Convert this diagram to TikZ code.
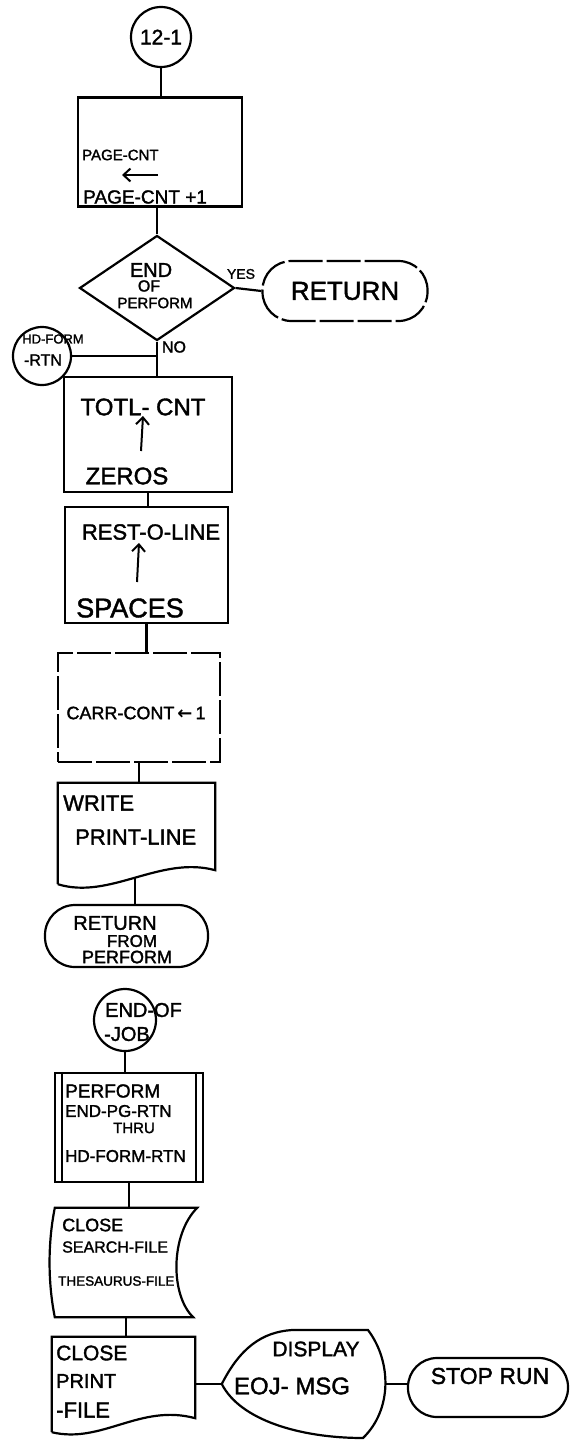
\documentclass[tikz,border=0pt]{standalone}
\usepackage{fontspec}
\setmainfont{Liberation Sans}[BoldFont=Liberation Sans, BoldFeatures={FakeBold=1.6}]
\newfontfamily\symf{DejaVu Sans}
\usetikzlibrary{shapes.geometric,arrows.meta}
\newcommand\fsz[1]{\fontsize{#1}{#1}\selectfont\bfseries}
\begin{document}
\begin{tikzpicture}[x=1pt,y=-1pt,
  shp/.style={draw, line width=2.2pt, inner sep=0pt},
  conn/.style={line width=2.2pt},
  txt/.style={inner sep=0pt},
  brk/.style={dash pattern=on 34pt off 4pt},
  arr/.style={line width=2pt, -{Straight Barb[length=7pt,width=13pt]}}]
\useasboundingbox (0,0) rectangle (574,1448);

% ---- entry connector and first box
\node[circle, shp, minimum size=60pt, font=\fsz{21}] (c1) at (161,37) {12-1};
\node[shp, minimum width=164pt, minimum height=109pt] (b1) at (160,152) {};
\node[txt, anchor=west, font=\fsz{15}] (b1a) at (82,155) {PAGE-CNT};
\coordinate (b1s) at (158,175);
\coordinate (b1e) at (122,175);
\draw[arr] (b1s) -- (b1e);
\node[txt, anchor=west, font=\fsz{19}] (b1c) at (83,197) {PAGE-CNT +1};
\draw[conn] (c1.south) -- (c1.south |- b1.north);

% ---- decision
\node[diamond, shp, minimum width=155pt, minimum height=105pt] (d) at (157,288) {};
\node[txt, font=\fsz{20}] (da) at (151,270) {END};
\node[txt, font=\fsz{16}] (db) at (149,286) {OF};
\node[txt, font=\fsz{15}] (dc) at (155,303) {PERFORM};
\draw[conn] (d.north) -- (d.north |- b1.south);
\node[shp, brk, rounded corners=29pt, minimum width=165pt, minimum height=60pt, font=\fsz{26}] (ret) at (345,291) {RETURN};
\draw[conn] (d.east) -- (ret.west);
\node[txt, font=\fsz{14}] (yes) at (241,274) {YES};
\node[txt, font=\fsz{16}] (no) at (174,347) {NO};

% ---- off-page connector
\node[circle, shp, minimum size=58pt] (hd) at (42,356) {};
\node[txt, font=\fsz{13}] (hda) at (53,339) {HD-FORM};
\node[txt, font=\fsz{16}] (hdb) at (43,360) {-RTN};

% ---- TOTL-CNT box
\node[shp, minimum width=168pt, minimum height=115pt] (b2) at (148,434.5) {};
\draw[conn] (d.south) -- (d.south |- b2.north);
\draw[conn] (hd.east) -- (hd.east -| d.south);
\node[txt, font=\fsz{24}] (b2a) at (143,407) {TOTL- CNT};
\coordinate (b2s) at (141,451);
\coordinate (b2e) at (143,416);
\draw[arr] (b2s) -- (b2e);
\node[txt, font=\fsz{24}] (b2c) at (127,476) {ZEROS};

% ---- REST-O-LINE box
\node[shp, minimum width=163pt, minimum height=116pt] (b3) at (146.5,565) {};
\draw[conn] (b2.south) -- (b2.south |- b3.north);
\node[txt, font=\fsz{22}] (b3a) at (151,532) {REST-O-LINE};
\coordinate (b3s) at (137,582);
\coordinate (b3e) at (139,543);
\draw[arr] (b3s) -- (b3e);
\node[txt, font=\fsz{27}] (b3c) at (130,608) {SPACES};

% ---- CARR-CONT box
\node[shp, brk, minimum width=162pt, minimum height=109pt] (b4) at (139,707.5) {};
\draw[conn] (b3.south) -- (b3.south |- b4.north);
\node[txt, font=\fsz{18}] (b4a) at (136,713) {CARR-CONT\,{\symf ←}\,1};

% ---- WRITE document
\node[minimum width=157pt, minimum height=101pt, inner sep=0pt] (wr) at (136.5,833.5) {};
\draw[conn] (wr.south west) -- (wr.north west) -- (wr.north east) -- ([yshift=14pt]wr.south east)
  .. controls +(-55,-15) and +(52,16) .. (wr.south west) coordinate[pos=0.5] (wrb);
\draw[conn] (b4.south) -- (b4.south |- wr.north);
\node[txt, anchor=west, font=\fsz{22}] (wra) at (63,803) {WRITE};
\node[txt, anchor=west, font=\fsz{22}] (wrc) at (75,837) {PRINT-LINE};

% ---- RETURN FROM PERFORM
\node[shp, rounded corners=30pt, minimum width=163pt, minimum height=62pt] (r2) at (126.5,936) {};
\draw[conn] (wrb) -- (wrb |- r2.north);
\node[txt, font=\fsz{20}] (r2a) at (115,923) {RETURN};
\node[txt, font=\fsz{17}] (r2b) at (132,941) {FROM};
\node[txt, font=\fsz{18}] (r2c) at (127,957) {PERFORM};

% ---- END-OF-JOB connector
\node[circle, shp, minimum size=62pt] (eoj) at (125,1020) {};
\node[txt, anchor=west, font=\fsz{20}] (eoja) at (105,1010) {END-OF};
\node[txt, font=\fsz{20}] (eojb) at (127,1034) {-JOB};

% ---- predefined process
\node[shp, minimum width=148pt, minimum height=109pt] (pp) at (129,1127.5) {};
\draw[conn] ([xshift=8pt]pp.north west) -- ([xshift=8pt]pp.south west);
\draw[conn] ([xshift=-8pt]pp.north east) -- ([xshift=-8pt]pp.south east);
\draw[conn] (eoj.south) -- (eoj.south |- pp.north);
\node[txt, anchor=west, font=\fsz{19}] (ppa) at (65,1091) {PERFORM};
\node[txt, anchor=west, font=\fsz{17}] (ppb) at (65,1111) {END-PG-RTN};
\node[txt, font=\fsz{15}] (ppc) at (134,1128) {THRU};
\node[txt, anchor=west, font=\fsz{17}] (ppd) at (65,1156) {HD-FORM-RTN};

% ---- stored data: CLOSE SEARCH-FILE THESAURUS-FILE
\node[minimum width=142pt, minimum height=109pt, inner sep=0pt] (sd) at (126,1262.5) {};
\draw[conn] (sd.north west) -- (sd.north east)
  .. controls +(-27,27) and +(-23,-22) .. ([xshift=-4pt]sd.south east)
  -- (sd.south west)
  .. controls +(-7,-35) and +(-7,35) .. (sd.north west) -- cycle;
\draw[conn] (pp.south) -- (pp.south |- sd.north);
\node[txt, anchor=west, font=\fsz{18}] (sda) at (62,1225) {CLOSE};
\node[txt, anchor=west, font=\fsz{16}] (sdb) at (62,1247) {SEARCH-FILE};
\node[txt, anchor=west, font=\fsz{13.5}] (sdc) at (58,1281) {THESAURUS-FILE};

% ---- document: CLOSE PRINT-FILE
\node[minimum width=143pt, minimum height=95pt, inner sep=0pt] (cp) at (123.5,1384.5) {};
\draw[conn] (cp.south west) -- (cp.north west) -- (cp.north east) -- ([yshift=14pt]cp.south east)
  .. controls +(-55,-15) and +(50,12) .. (cp.south west);
\draw[conn] (sd.south) -- (sd.south |- cp.north);
\node[txt, anchor=west, font=\fsz{21}] (cpa) at (56,1353) {CLOSE};
\node[txt, anchor=west, font=\fsz{20}] (cpb) at (56,1381) {PRINT};
\node[txt, anchor=west, font=\fsz{22}] (cpc) at (56,1410) {-FILE};

% ---- display EOJ-MSG
\node[minimum width=164pt, minimum height=108pt, inner sep=0pt] (dsp) at (304,1384) {};
\draw[conn] (dsp.west) .. controls (240,1348) and (262,1332) .. (292,1330) -- (368,1330)
  .. controls (392,1362) and (392,1410) .. (363,1438)
  .. controls (300,1438) and (240,1420) .. (dsp.west) -- cycle;
\draw[conn] (cp.east |- dsp.west) -- (dsp.west);
\node[txt, font=\fsz{21}] (dspa) at (316,1349) {DISPLAY};
\node[txt, font=\fsz{24}] (dspb) at (292,1386) {EOJ- MSG};

% ---- STOP RUN
\node[shp, rounded corners=29pt, minimum width=160pt, minimum height=59pt] (stop) at (488,1387.5) {};
\node[txt, font=\fsz{23}] (stopa) at (490,1376) {STOP RUN};
\draw[conn] (dsp.east) -- (dsp.east -| stop.west);
\end{tikzpicture}
\end{document}
